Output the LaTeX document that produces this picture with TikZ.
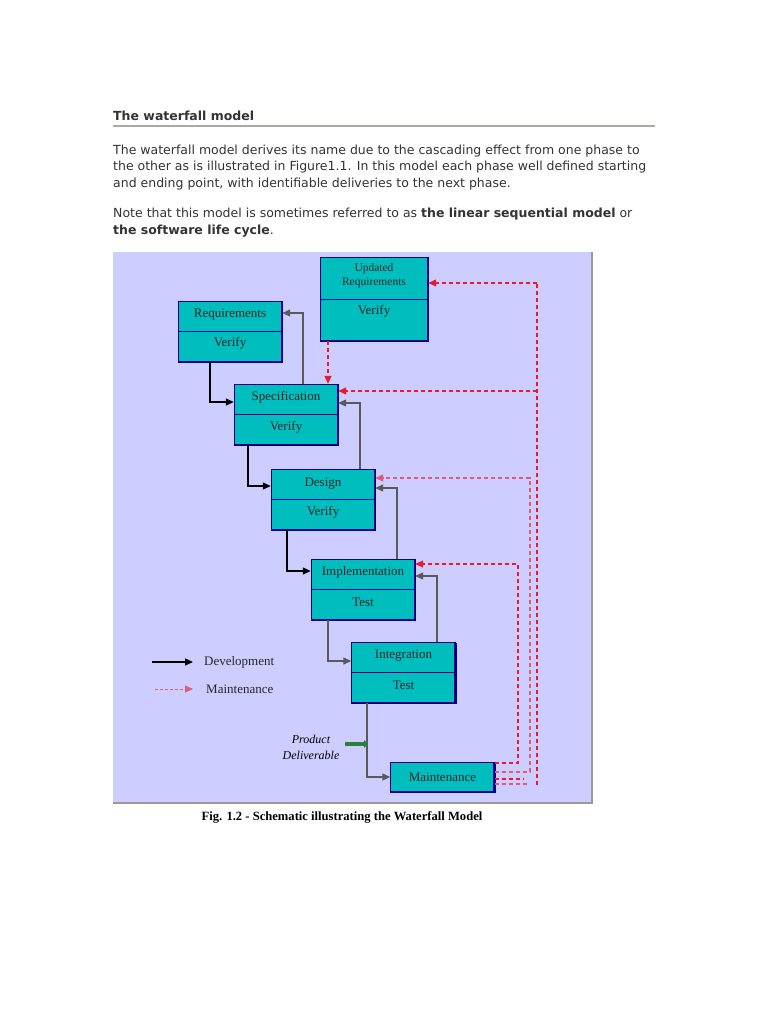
\documentclass[tikz,border=0pt]{standalone}
\usepackage{fontspec}
\setmainfont{Liberation Serif}
\newfontfamily\pagesans{DejaVu Sans}
\usetikzlibrary{arrows.meta,positioning,calc}
\definecolor{panel}{RGB}{205,205,255}
\definecolor{phasefill}{RGB}{0,190,190}
\definecolor{phaseline}{RGB}{0,0,140}
\definecolor{rulegray}{RGB}{170,170,160}
\definecolor{delivgreen}{RGB}{40,130,60}
\definecolor{mntred}{RGB}{235,25,45}
\definecolor{mntpink}{RGB}{225,90,120}
\tikzset{
    %Define standard arrow tip
    >={Triangle[length=8pt,width=7pt]},
    %Define style for the phase boxes
    phase/.style={
           rectangle,
           draw=phaseline, thin,
           fill=phasefill,
           minimum width=104pt,
           minimum height=61pt,
           inner sep=0pt},
    phaseedge/.style={
           draw=phaseline,
           line width=2.5pt},
    phasetext/.style={
           font=\fontsize{13}{14}\selectfont,
           text=black!85,
           inner sep=0pt},
    smalltext/.style={
           font=\fontsize{11.5}{14}\selectfont,
           text=black!85,
           align=center,
           inner sep=0pt},
    % Define arrow styles
    dev/.style={
           ->,
           draw=black,
           line width=1.3pt},
    devback/.style={
           ->,
           draw=black!65,
           line width=1.3pt},
    mnt/.style={
           ->,
           draw=mntred,
           line width=1.3pt,
           dash pattern=on 4pt off 3pt},
    mntline/.style={
           draw=mntred,
           line width=1.3pt,
           dash pattern=on 4pt off 3pt},
    % text outside the figure
    pagetext/.style={
           font=\pagesans\fontsize{12.5}{15}\selectfont,
           text=black!80,
           inner sep=0pt,
           anchor=base west}
}
\begin{document}
\begin{tikzpicture}[x=1pt,y=-1pt]
\useasboundingbox[fill=white] (0,0) rectangle (768,1024);
% heading and text
\node[pagetext, font=\pagesans\bfseries\fontsize{12.5}{15}\selectfont] (title) at (113,121) {The waterfall model};
\draw[rulegray, line width=2pt] (113,126) -- (655,126);
\node[pagetext] (p1) at (113,154.5) {The waterfall model derives its name due to the cascading effect from one phase to};
\node[pagetext] (p2) at (113,171) {the other as is illustrated in Figure1.1. In this model each phase well defined starting};
\node[pagetext] (p3) at (113,187.5) {and ending point, with identifiable deliveries to the next phase.};
\node[pagetext] (p4) at (113,217.5) {Note that this model is sometimes referred to as \textbf{the linear sequential model} or};
\node[pagetext] (p5) at (113,234) {\textbf{the software life cycle}.};
% figure panel
\fill[panel] (113,252) rectangle (592,803);
\draw[black!40, line width=1.5pt] (592,252) -- (592,803) -- (113,803);
% phases
\node[phase] (req) at (230,331.5) {};
\node[phase, minimum width=108pt, minimum height=84pt] (upd) at (374,299) {};
\node[phase] (spec) at (286,414.5) {};
\node[phase] (des) at (323,499.5) {};
\node[phase] (impl) at (363,589.5) {};
\node[phase] (integ) at (403.5,672.5) {};
\node[phase, minimum height=30pt] (maint) at (442.5,777) {};
\foreach \b in {req,upd,spec,des,impl,integ,maint}
    \draw[phaseedge] ([yshift=-1pt]\b.north east) -- (\b.south east) -- ([xshift=1pt]\b.south west);
\foreach \b in {req,upd,spec,des,impl,integ}
    \draw[phaseline, line width=1pt] (\b.west) -- (\b.east);
\node[phasetext] (req-t) at ($(req.center)+(0,-17)$) {Requirements};
\node[phasetext] (req-b) at ($(req.center)+(0,12)$) {Verify};
\node[smalltext] (upd-t) at ($(upd.center)+(0,-23)$) {Updated\\Requirements};
\node[phasetext] (upd-b) at ($(upd.center)+(0,12)$) {Verify};
\node[phasetext] (spec-t) at ($(spec.center)+(0,-17)$) {Specification};
\node[phasetext] (spec-b) at ($(spec.center)+(0,13)$) {Verify};
\node[phasetext] (des-t) at ($(des.center)+(0,-16)$) {Design};
\node[phasetext] (des-b) at ($(des.center)+(0,13)$) {Verify};
\node[phasetext] (impl-t) at ($(impl.center)+(0,-17)$) {Implementation};
\node[phasetext] (impl-b) at ($(impl.center)+(0,13)$) {Test};
\node[phasetext] (integ-t) at ($(integ.center)+(0,-17)$) {Integration};
\node[phasetext] (integ-b) at ($(integ.center)+(0,13)$) {Test};
\node[phasetext] (maint-t) at (maint.center) {Maintenance};
% development flow
\coordinate (k1) at (210,402);
\coordinate (k2) at (303,313);
\coordinate (k3) at (248,486);
\coordinate (k4) at (360,403);
\coordinate (k5) at (287,571);
\coordinate (k6) at (397,488);
\coordinate (k7) at (328,661);
\coordinate (k8) at (437,576);
\coordinate (k9) at (367,777);
\draw[dev] (req.south -| k1) |- (spec.west |- k1);
\draw[devback] (spec.north -| k2) |- (req.east |- k2);
\draw[dev] (spec.south -| k3) |- (des.west |- k3);
\draw[devback] (des.north -| k4) |- (spec.east |- k4);
\draw[dev] (des.south -| k5) |- (impl.west |- k5);
\draw[devback] (impl.north -| k6) |- (des.east |- k6);
\draw[devback] (impl.south -| k7) |- (integ.west |- k7);
\draw[devback] (integ.north -| k8) |- (impl.east |- k8);
\draw[devback] (integ.south -| k9) |- (maint.west |- k9);
% maintenance flow
\coordinate (r0) at (537,785);
\coordinate (r1) at (537,283);
\coordinate (r2) at (537,391);
\coordinate (r3) at (328,341);
\coordinate (r4) at (530,478);
\coordinate (r5) at (530,772);
\coordinate (r6) at (518,564);
\coordinate (r7) at (518,763);
\coordinate (r8) at (524,779);
\coordinate (r9) at (529,784);
\draw[mntline] (r0) -- (r1);
\draw[mnt] (r1) -- (upd.east |- r1);
\draw[mnt] (r2) -- (spec.east |- r2);
\draw[mnt] (upd.south -| r3) -- (spec.north -| r3);
\draw[mnt, draw=mntpink] (maint.east |- r5) -| (r4) -- (des.east |- r4);
\draw[mnt] (maint.east |- r7) -| (r6) -- (impl.east |- r6);
\draw[mntline] (maint.east |- r8) -- (r8);
\draw[mntline, draw=mntpink] (maint.east |- r9) -- (r9);
% product deliverable
\node[font=\itshape\fontsize{12}{16}\selectfont, align=center, inner sep=0pt] (deliv) at (311,747) {Product\\Deliverable};
\coordinate (pdtail) at (345,744);
\coordinate (pdtip) at (368,744);
\draw[delivgreen, line width=4pt, -{Triangle[length=4pt,width=8pt]}] (pdtail) -- (pdtip);
% legend
\node[phasetext, anchor=west] (ldev) at (204,662) {Development};
\node[phasetext, anchor=west] (lmnt) at (206,689) {Maintenance};
\coordinate (ldevs) at (152,662);
\coordinate (lmnts) at (155,689);
\draw[dev, shorten >=11pt] (ldevs) -- (ldev.west);
\draw[->, draw=mntpink, line width=1pt, dash pattern=on 3pt off 2pt, shorten >=13pt] (lmnts) -- (lmnt.west);
% caption
\node[font=\bfseries\fontsize{12.6}{14}\selectfont, inner sep=0pt] (caption) at (342,817) {Fig. 1.2 - Schematic illustrating the Waterfall Model};
\end{tikzpicture}
\end{document}
